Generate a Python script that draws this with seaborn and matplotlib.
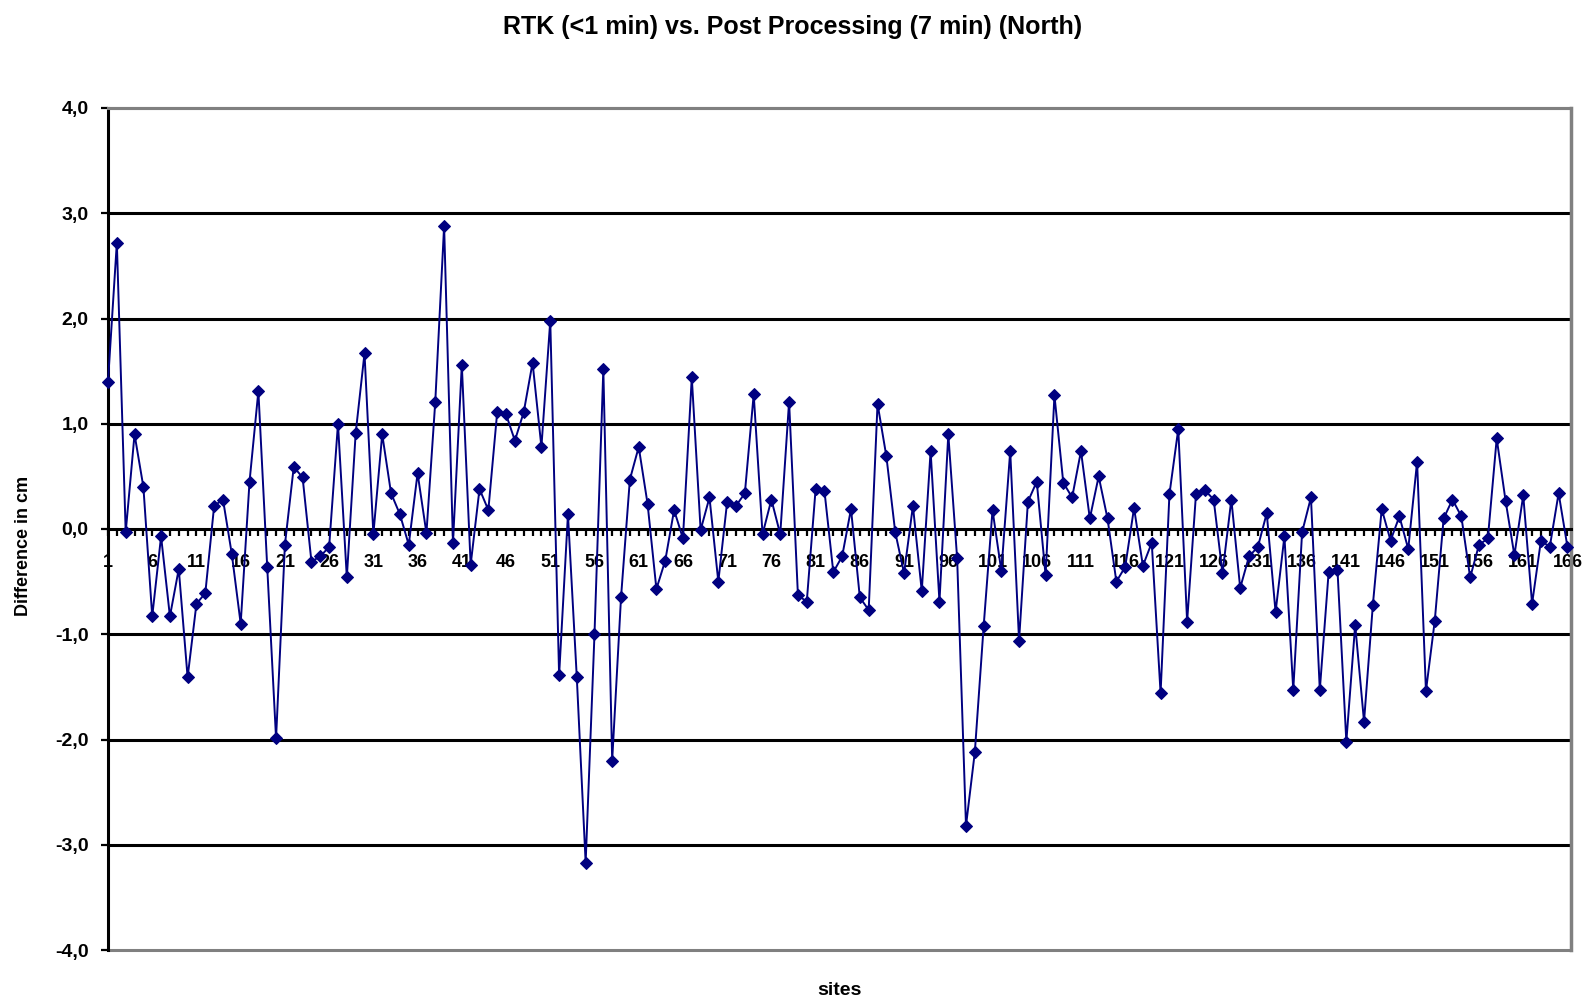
import pandas as pd
import matplotlib
matplotlib.use('Agg')
import matplotlib.pyplot as plt
import seaborn as sns

# Difference RTK vs post processing (North), one value per site
diff_cm = [
    1.40, 2.72, -0.03, 0.90, 0.40, -0.83, -0.07, -0.83, -0.38, -1.41,
    -0.71, -0.61, 0.22, 0.28, -0.24, -0.90, 0.45, 1.31, -0.36, -1.99,
    -0.15, 0.59, 0.49, -0.31, -0.26, -0.17, 1.00, -0.46, 0.91, 1.67,
    -0.05, 0.90, 0.34, 0.14, -0.15, 0.53, -0.04, 1.21, 2.88, -0.13,
    1.56, -0.34, 0.38, 0.18, 1.11, 1.09, 0.84, 1.11, 1.58, 0.78,
    1.98, -1.39, 0.14, -1.41, -3.17, -1.00, 1.52, -2.20, -0.65, 0.47,
    0.78, 0.24, -0.57, -0.30, 0.18, -0.09, 1.44, -0.01, 0.30, -0.50,
    0.26, 0.22, 0.34, 1.28, -0.05, 0.28, -0.05, 1.21, -0.63, -0.69,
    0.38, 0.36, -0.41, -0.26, 0.19, -0.65, -0.77, 1.19, 0.69, -0.03,
    -0.42, 0.22, -0.59, 0.74, -0.69, 0.90, -0.28, -2.82, -2.12, -0.92,
    0.18, -0.40, 0.74, -1.06, 0.26, 0.45, -0.44, 1.27, 0.44, 0.30,
    0.74, 0.10, 0.50, 0.10, -0.50, -0.36, 0.20, -0.35, -0.13, -1.56,
    0.33, 0.95, -0.88, 0.33, 0.37, 0.28, -0.42, 0.28, -0.56, -0.26,
    -0.17, 0.15, -0.79, -0.07, -1.53, -0.03, 0.30, -1.53, -0.41, -0.39,
    -2.02, -0.91, -1.83, -0.72, 0.19, -0.11, 0.12, -0.19, 0.64, -1.54,
    -0.87, 0.10, 0.28, 0.12, -0.46, -0.15, -0.09, 0.86, 0.27, -0.25,
    0.32, -0.71, -0.11, -0.17, 0.34, -0.17,
]
sites = list(range(1, len(diff_cm) + 1))
y_ticks = [-4, -3, -2, -1, 0, 1, 2, 3, 4]

title = 'RTK (<1 min) vs. Post Processing (7 min) (North)'
navy = '#000080'
grey = '#808080'

sns.set_theme(style='white')
plt.rcParams['font.family'] = ['Liberation Sans', 'DejaVu Sans']
plt.rcParams['font.weight'] = 'bold'
plt.rcParams['text.color'] = 'black'
plt.rcParams['axes.labelcolor'] = 'black'
plt.rcParams['xtick.color'] = 'black'
plt.rcParams['ytick.color'] = 'black'

fig = plt.figure(figsize=(15.85, 10.01), dpi=100)
ax = fig.add_axes([108 / 1585, 51 / 1001, 1463 / 1585, 842 / 1001])

df = pd.DataFrame({'site': sites, 'diff': diff_cm})

# horizontal gridlines (black) and grey frame at +-4
for v in y_ticks:
    if v == 0:
        continue
    c = grey if abs(v) == 4 else 'black'
    ax.axhline(v, color=c, lw=2.2, zorder=1, clip_on=False)

sns.lineplot(data=df, x='site', y='diff', color=navy, linewidth=1.4,
             marker='D', markersize=6.5, markeredgecolor=navy,
             markerfacecolor=navy, ax=ax, zorder=3)
for line in ax.lines:
    line.set_clip_on(False)

ax.set_xlim(1, 166.4)
ax.set_ylim(-4, 4)

# axes / spines
ax.spines['bottom'].set_position(('data', 0))
ax.spines['bottom'].set_color('black')
ax.spines['bottom'].set_linewidth(2.2)
ax.spines['left'].set_color('black')
ax.spines['left'].set_linewidth(2.2)
ax.spines['top'].set_color(grey)
ax.spines['top'].set_linewidth(2.2)
ax.spines['right'].set_color(grey)
ax.spines['right'].set_linewidth(2.5)

ax.set_xticks(sites)
ax.set_xticklabels([str(s) if (s - 1) % 5 == 0 else '' for s in sites])
ax.set_yticks(y_ticks)
ax.set_yticklabels([f'{v:.1f}'.replace('.', ',') for v in y_ticks])

ax.tick_params(axis='x', direction='out', length=5, width=1.6,
               color='black', labelcolor='black', pad=13, labelsize=13,
               bottom=True)
ax.tick_params(axis='y', direction='out', length=5, width=1.6,
               color='black', labelcolor='black', pad=9, labelsize=14,
               left=True)
for lab in ax.get_xticklabels() + ax.get_yticklabels():
    lab.set_fontweight('bold')

ax.set_xlabel('sites', fontsize=14, fontweight='bold', color='black')
ax.xaxis.set_label_coords(0.5, -0.038)
ax.set_ylabel('Difference in cm', fontsize=13, fontweight='bold', color='black')
ax.yaxis.set_label_coords(-0.052, 0.48)

fig.suptitle(title, fontsize=18, fontweight='bold', color='black',
             y=0.973, va='center')

fig.savefig('out.png', dpi=100, facecolor='white')
